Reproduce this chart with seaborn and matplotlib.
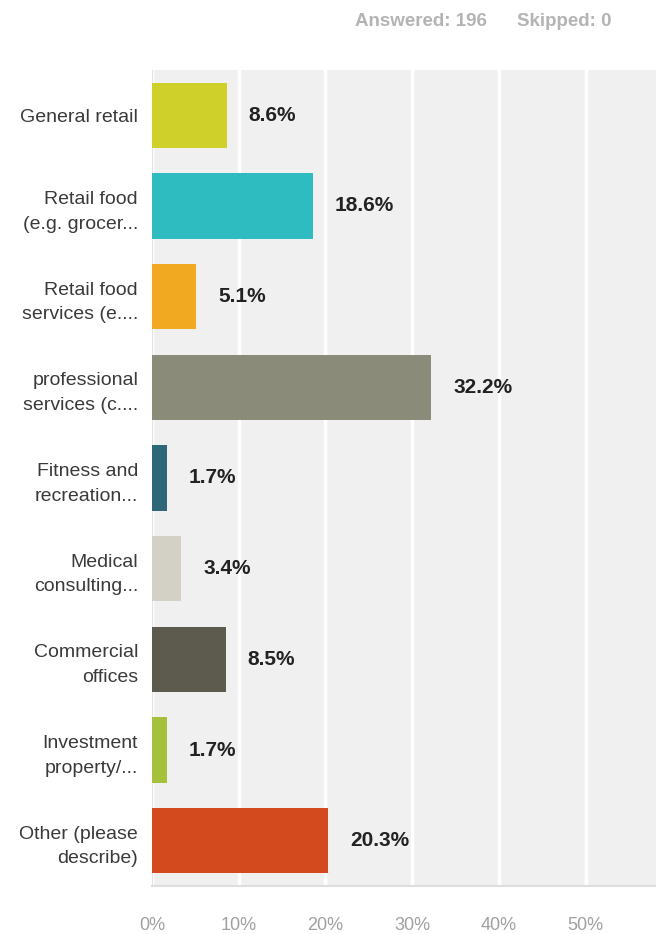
import matplotlib
matplotlib.use("Agg")
import matplotlib.pyplot as plt
import seaborn as sns
import pandas as pd

categories = [
    "General retail",
    "Retail food\n(e.g. grocer...",
    "Retail food\nservices (e....",
    "professional\nservices (c....",
    "Fitness and\nrecreation...",
    "Medical\nconsulting...",
    "Commercial\noffices",
    "Investment\nproperty/...",
    "Other (please\ndescribe)",
]
percent = [8.6, 18.6, 5.1, 32.2, 1.7, 3.4, 8.5, 1.7, 20.3]
bar_colors = ["#cfd12a", "#2fbcc0", "#f2a922", "#8a8b79", "#2e6878",
              "#d3d1c5", "#5c5b4e", "#a5c13c", "#d24a1d"]
x_ticks = [0, 10, 20, 30, 40, 50]
x_tick_labels = ["0%", "10%", "20%", "30%", "40%", "50%"]
answered = 196
skipped = 0

df = pd.DataFrame({"category": categories, "percent": percent})

sns.set_theme(style="white")
plt.rcParams["font.family"] = ["Liberation Sans", "DejaVu Sans"]

fig = plt.figure(figsize=(6.56, 9.34), dpi=100)
ax = fig.add_axes([152 / 656, 48 / 934, 504 / 656, 816 / 934])
ax.set_facecolor("#f0f0f0")

sns.barplot(data=df, x="percent", y="category", hue="category",
            palette=bar_colors, orient="h", width=0.72, legend=False,
            saturation=1, linewidth=0, ax=ax, zorder=3)

ax.set_xlim(0, 58.1)
ax.set_xticks(x_ticks)
ax.set_xticklabels(x_tick_labels, fontsize=13, color="#a0a0a0")
ax.tick_params(axis="x", length=0, pad=22)
ax.tick_params(axis="y", length=0, pad=10)
for lbl in ax.get_yticklabels():
    lbl.set_fontsize(14)
    lbl.set_color("#3a3a3a")
    lbl.set_linespacing(1.6)
    lbl.set_horizontalalignment("right")

ax.set_xlabel("")
ax.set_ylabel("")
ax.xaxis.grid(True, color="#ffffff", linewidth=2.5, zorder=0)
ax.set_axisbelow(True)
for side in ["top", "right", "left"]:
    ax.spines[side].set_visible(False)
ax.spines["bottom"].set_color("#dedede")
ax.spines["bottom"].set_linewidth(1.5)
ax.axvline(0, color="#e2e2e2", linewidth=1.5, zorder=2)

for i, v in enumerate(percent):
    ax.text(v + 2.5, i, f"{v:.1f}%", va="center", ha="left",
            fontsize=15, fontweight="bold", color="#222222", zorder=4)

fig.text(355 / 656, 1 - 22 / 934, f"Answered: {answered}", ha="left",
         va="center", fontsize=13.5, fontweight="bold", color="#b4b4b4")
fig.text(517 / 656, 1 - 22 / 934, f"Skipped: {skipped}", ha="left",
         va="center", fontsize=13.5, fontweight="bold", color="#b4b4b4")

fig.savefig("out.png", dpi=100, facecolor="white")
